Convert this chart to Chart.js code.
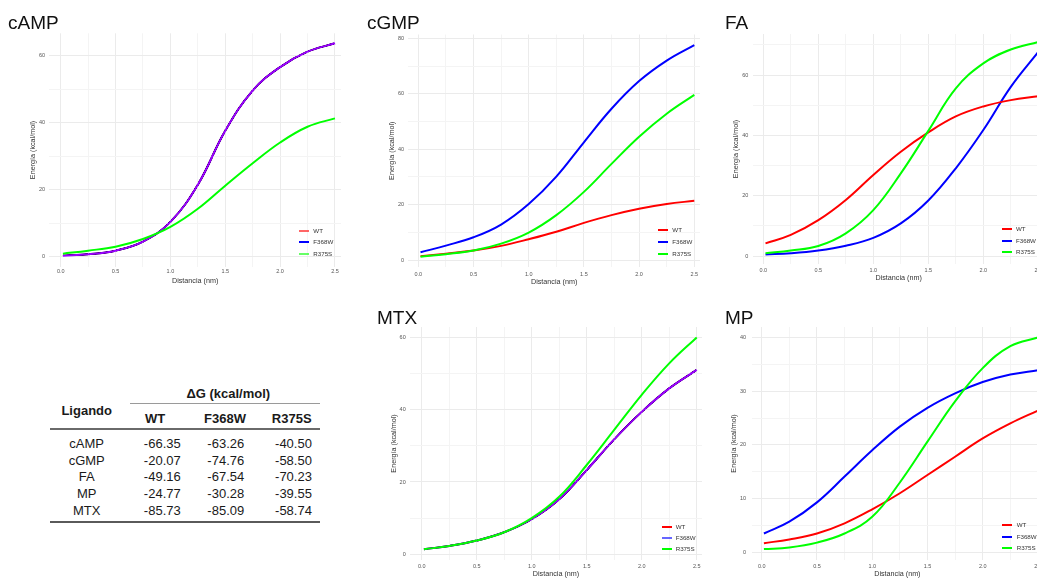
<!DOCTYPE html>
<html><head><meta charset="utf-8">
<script src="https://cdn.jsdelivr.net/npm/chart.js@4.4.1/dist/chart.umd.min.js"></script>
<style>
html,body{margin:0;padding:0;background:#fff;}
body{width:1037px;height:578px;overflow:hidden;position:relative;font-family:'Liberation Sans',Arial,sans-serif;}
canvas{position:absolute;}
.lgt{position:absolute;font-size:6.2px;line-height:1;color:#333;white-space:nowrap;}
.lgs{position:absolute;width:10px;height:2px;}
.tc{position:absolute;font-size:13px;line-height:1;color:#1a1a1a;transform:translate(-50%,-50%);white-space:nowrap;}
.tc.b{font-weight:bold;}
.hl{position:absolute;}
</style></head><body>
<script>
// ---------- data ----------
const distances = [0.02, 0.25, 0.5, 0.75, 1.0, 1.25, 1.5, 1.75, 2.0, 2.25, 2.5];
const seriesNames = ['WT', 'F368W', 'R375S'];

const cAMP_WT    = [0.3, 0.7, 1.8, 4.5, 10.4, 21.5, 37.6, 49.6, 56.6, 61.2, 63.7];
const cAMP_F368W = [0.3, 0.7, 1.8, 4.5, 10.4, 21.5, 37.6, 49.6, 56.6, 61.2, 63.7];
const cAMP_R375S = [0.9, 1.8, 3.0, 5.3, 8.9, 14.3, 21.2, 27.9, 34.1, 38.8, 41.3];

const cGMP_WT    = [1.4, 2.3, 3.4, 5.1, 7.5, 10.2, 13.4, 16.2, 18.5, 20.2, 21.4];
const cGMP_F368W = [2.8, 5.2, 8.2, 12.8, 20.2, 30.1, 42.5, 54.6, 64.6, 72.0, 77.6];
const cGMP_R375S = [1.2, 2.1, 3.4, 5.9, 9.9, 16.2, 24.6, 34.7, 44.5, 52.8, 59.6];

const FA_WT    = [4.2, 7.0, 11.9, 18.6, 26.9, 34.6, 41.0, 46.3, 49.6, 51.7, 53.0];
const FA_F368W = [0.5, 0.9, 1.8, 3.4, 6.0, 10.8, 18.4, 29.1, 41.8, 56.1, 67.7];
const FA_R375S = [0.9, 1.8, 3.3, 7.5, 15.2, 27.4, 41.5, 55.6, 63.9, 68.5, 71.0];

const MTX_WT    = [1.4, 2.3, 3.8, 6.1, 9.7, 15.2, 23.3, 31.8, 39.4, 45.9, 51.0];
const MTX_F368W = [1.4, 2.3, 3.8, 6.1, 9.7, 15.2, 23.3, 31.8, 39.4, 45.9, 51.0];
const MTX_R375S = [1.4, 2.3, 3.8, 6.1, 10.0, 15.9, 24.7, 34.4, 44.1, 52.8, 60.0];

const MP_WT    = [1.7, 2.4, 3.5, 5.4, 8.0, 11.0, 14.4, 17.8, 21.2, 24.0, 26.4];
const MP_F368W = [3.5, 5.7, 9.3, 14.1, 19.0, 23.4, 26.9, 29.6, 31.7, 33.1, 33.9];
const MP_R375S = [0.6, 0.9, 1.8, 3.5, 6.6, 13.0, 20.6, 28.1, 34.3, 38.4, 40.0];

const ligandNames = ['cAMP', 'cGMP', 'FA', 'MP', 'MTX'];
const dG_WT    = ['-66.35', '-20.07', '-49.16', '-24.77', '-85.73'];
const dG_F368W = ['-63.26', '-74.76', '-67.54', '-30.28', '-85.09'];
const dG_R375S = ['-40.50', '-58.50', '-70.23', '-39.55', '-58.74'];

const xTitle = 'Distancia (nm)';
const yTitle = 'Energía (kcal/mol)';
const tableTitle = 'ΔG (kcal/mol)';
const tableFirstHeader = 'Ligando';

// ---------- styles / layout ----------
const FONT = "'Liberation Sans', Arial, sans-serif";
const lineColors = ['#ff0000', '#0000ff', '#00ff00'];

const panels = [
  {title:'cAMP', series:[cAMP_WT, cAMP_F368W, cAMP_R375S], overlap:true,
   legendColors:['rgba(255,0,0,0.6)','#0000ff','rgba(0,255,0,0.6)'],
   CL:8, CT:0, AL:49.3, AR:341, AT:33.3, AB:266.7, x0pix:60.7, xpu:109.7, y0pix:256.7, ypu:3.35,
   titleY:23.5, yTitleX:33, yTickRight:45, xTickY:271.7, xTitleY:280.7, yStep:10, yMajor:20,
   lg:{lineX:299.3, textX:313.3, y0:230.7, dy:11.6}},
  {title:'cGMP', series:[cGMP_WT, cGMP_F368W, cGMP_R375S], overlap:false,
   legendColors:lineColors,
   CL:367, CT:0, AL:408.3, AR:700, AT:34.5, AB:267, x0pix:418.3, xpu:110.4, y0pix:260, ypu:2.77,
   titleY:23.5, yTitleX:391.7, yTickRight:404, xTickY:274, xTitleY:281.7, yStep:10, yMajor:20,
   lg:{lineX:657.7, textX:672.3, y0:230, dy:12.1}},
  {title:'FA', series:[FA_WT, FA_F368W, FA_R375S], overlap:false,
   legendColors:lineColors,
   CL:725, CT:0, AL:753.3, AR:1043.5, AT:34, AB:264, x0pix:763.3, xpu:110, y0pix:256, ypu:3.015,
   titleY:23.3, yTitleX:736, yTickRight:748.3, xTickY:270.7, xTitleY:278.3, yStep:10, yMajor:20,
   lg:{lineX:1001.7, textX:1016, y0:229.3, dy:11.5}},
  {title:'MTX', series:[MTX_WT, MTX_F368W, MTX_R375S], overlap:true,
   legendColors:['#ff0000','rgba(0,0,255,0.6)','#00ff00'],
   CL:377, CT:298, AL:410, AR:701.7, AT:327, AB:560, x0pix:421.7, xpu:110, y0pix:554.3, ypu:3.615,
   titleY:319.2, yTitleX:394.3, yTickRight:405.7, xTickY:566, xTitleY:574, yStep:10, yMajor:20,
   lg:{lineX:661.7, textX:675.7, y0:526.7, dy:11.3}},
  {title:'MP', series:[MP_WT, MP_F368W, MP_R375S], overlap:false,
   legendColors:lineColors,
   CL:725, CT:298, AL:751.7, AR:1043.1, AT:327, AB:560, x0pix:761.7, xpu:110.5, y0pix:552.3, ypu:5.37,
   titleY:319.2, yTitleX:734.3, yTickRight:746, xTickY:566, xTitleY:574, yStep:5, yMajor:10,
   lg:{lineX:1001.7, textX:1016.7, y0:525, dy:11.7}}
];

const blendPlugin = {
  id:'blend',
  beforeDatasetDraw(chart, args){
    const ds = chart.data.datasets[args.index];
    if (ds.blend){ chart.ctx.save(); chart.ctx.globalCompositeOperation = ds.blend; }
  },
  afterDatasetDraw(chart, args){
    const ds = chart.data.datasets[args.index];
    if (ds.blend){ chart.ctx.restore(); }
  }
};

function isMult(v, m){ const r = v / m; return Math.abs(r - Math.round(r)) < 1e-6; }

function makePanel(p){
  const CL = p.CL, CT = p.CT;
  const CW = Math.round(p.AR - CL);
  const CH = Math.round(p.xTitleY + 4.32 - CT);
  const cv = document.createElement('canvas');
  cv.width = CW; cv.height = CH;
  cv.style.left = CL + 'px'; cv.style.top = CT + 'px';
  cv.style.width = CW + 'px'; cv.style.height = CH + 'px';
  document.body.appendChild(cv);

  const yW = p.AL - CL;
  const xH = CT + CH - p.AB;
  const xmin = (p.AL - p.x0pix) / p.xpu, xmax = (CL + CW - p.x0pix) / p.xpu;
  const ymax = (p.y0pix - p.AT) / p.ypu, ymin = (p.y0pix - p.AB) / p.ypu;
  const tLH = 19 * 0.8;
  const tPadTop = p.titleY - CT - tLH / 2;
  const tPadBot = (p.AT - CT) - tLH - tPadTop;
  const axLH = 7.2 * 1.2;

  const orders = [2, 3, 1];
  const datasets = p.series.map((vals, i) => ({
    label: seriesNames[i],
    data: distances.map((d, k) => ({x: d, y: vals[k]})),
    borderColor: (p.overlap && i === 0) ? 'rgba(255,0,0,0.6)' : lineColors[i],
    blend: (p.overlap && i === 0) ? 'lighter' : undefined,
    borderWidth: 2,
    pointRadius: 0,
    fill: false,
    tension: 0.4,
    order: orders[i]
  }));

  new Chart(cv, {
    type: 'line',
    data: {datasets},
    plugins: [blendPlugin],
    options: {
      responsive: false, animation: false, devicePixelRatio: 1, events: [],
      layout: {padding: 0, autoPadding: false},
      plugins: {
        legend: {display: false},
        tooltip: {enabled: false},
        title: {display: true, text: p.title, align: 'start', color: '#111',
          font: {family: FONT, size: 19, weight: 'normal', lineHeight: 0.8},
          padding: {top: tPadTop, bottom: tPadBot}}
      },
      scales: {
        x: {
          type: 'linear', min: xmin, max: xmax,
          border: {display: false},
          grid: {drawTicks: false, lineWidth: 1,
            color: c => (c.tick && isMult(c.tick.value, 0.5)) ? '#ebebeb' : '#f4f4f4'},
          ticks: {stepSize: 0.25, includeBounds: false, autoSkip: false, maxRotation: 0,
            padding: p.xTickY - p.AB - 3.3, color: '#555',
            font: {family: FONT, size: 5.5, lineHeight: 1.2},
            callback: v => isMult(v, 0.5) ? v.toFixed(1) : ''},
          title: {display: true, text: xTitle, color: '#333',
            font: {family: FONT, size: 7.2, lineHeight: 1.2},
            padding: {top: 0, bottom: CT + CH - p.xTitleY - axLH / 2}},
          afterFit: s => { s.height = xH; s.paddingLeft = 0; s.paddingRight = 0; }
        },
        y: {
          type: 'linear', min: ymin, max: ymax,
          border: {display: false},
          grid: {drawTicks: false, lineWidth: 1,
            color: c => (c.tick && isMult(c.tick.value, p.yMajor)) ? '#ebebeb' : '#f4f4f4'},
          ticks: {stepSize: p.yStep, includeBounds: false, autoSkip: false,
            padding: p.AL - p.yTickRight, color: '#555',
            font: {family: FONT, size: 5.5, lineHeight: 1.2},
            callback: v => isMult(v, p.yMajor) ? String(Math.round(v)) : ''},
          title: {display: true, text: yTitle, color: '#333',
            font: {family: FONT, size: 7.2, lineHeight: 1.2},
            padding: {top: p.yTitleX - CL - axLH / 2, bottom: 0}},
          afterFit: s => { s.width = yW; s.paddingTop = 0; s.paddingBottom = 0; }
        }
      }
    }
  });

  // legend
  seriesNames.forEach((name, i) => {
    const y = p.lg.y0 + i * p.lg.dy;
    const sw = document.createElement('div');
    sw.className = 'lgs';
    sw.style.left = p.lg.lineX + 'px'; sw.style.top = (y - 1) + 'px';
    sw.style.background = p.legendColors[i];
    document.body.appendChild(sw);
    const t = document.createElement('div');
    t.className = 'lgt'; t.textContent = name;
    t.style.left = p.lg.textX + 'px'; t.style.top = (y - 3.1) + 'px';
    document.body.appendChild(t);
  });
}

panels.forEach(makePanel);

// ---------- table ----------
function cell(text, x, y, bold){
  const d = document.createElement('div');
  d.className = 'tc' + (bold ? ' b' : '');
  d.textContent = text;
  d.style.left = x + 'px'; d.style.top = y + 'px';
  document.body.appendChild(d);
}
function hline(x, y, w, h, c){
  const d = document.createElement('div');
  d.className = 'hl';
  d.style.left = x + 'px'; d.style.top = y + 'px';
  d.style.width = w + 'px'; d.style.height = h + 'px'; d.style.background = c;
  document.body.appendChild(d);
}
cell(tableTitle, 228.3, 393.3, true);
hline(130, 403, 190, 1, '#9a9a9a');
cell(tableFirstHeader, 86.7, 410, true);
const headerX = [155, 225, 291.7];
seriesNames.forEach((n, i) => cell(n, headerX[i], 418.3, true));
hline(50, 428.3, 270, 2, '#6a6a6a');
const valueX = [162.3, 225.8, 293.5];
const cols = [dG_WT, dG_F368W, dG_R375S];
ligandNames.forEach((lig, r) => {
  const y = 442.7 + r * 16.83;
  cell(lig, 86.7, y, false);
  cols.forEach((col, c) => cell(col[r], valueX[c], y, false));
});
hline(50, 521, 270, 1.5, '#5a5a5a');
</script>
</body></html>
